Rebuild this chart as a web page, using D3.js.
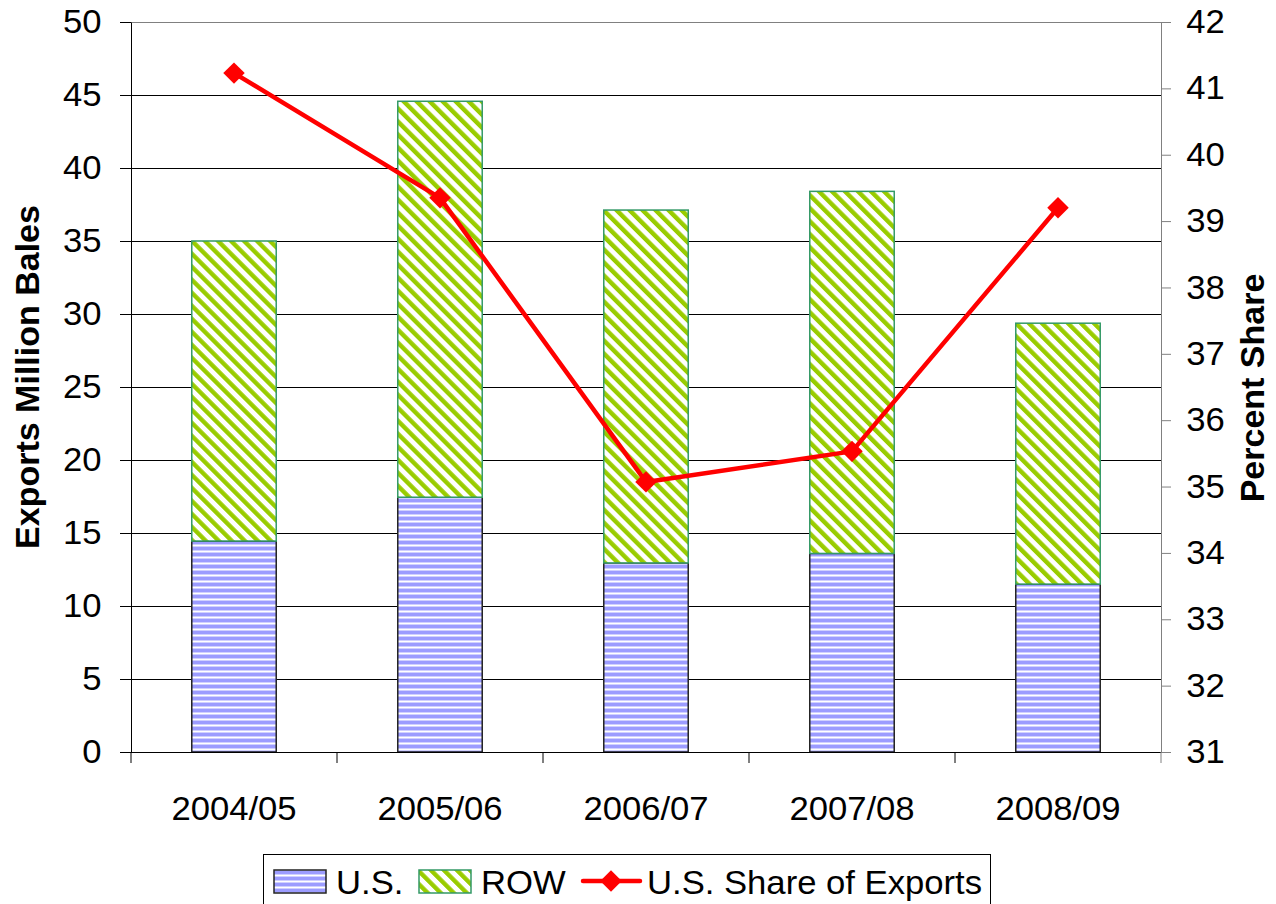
<!DOCTYPE html>
<html>
<head>
<meta charset="utf-8">
<script src="https://cdn.jsdelivr.net/npm/d3@7"></script>
<style>
  body { margin: 0; background: #fff; }
  svg { display: block; font-family: "Liberation Sans", Arial, sans-serif; }
</style>
</head>
<body>
<svg id="chart" width="1276" height="904"></svg>
<script>
    "use strict";
    // data
    var categories = ["2004/05", "2005/06", "2006/07", "2007/08", "2008/09"];
    var usExports = [14.45, 17.45, 12.95, 13.6, 11.5];
    var rowExports = [20.55, 27.12, 24.17, 24.8, 17.87];
    var usShare = [41.23, 39.35, 35.07, 35.53, 39.2];
    var leftTicks = [0, 5, 10, 15, 20, 25, 30, 35, 40, 45, 50];
    var rightTicks = [31, 32, 33, 34, 35, 36, 37, 38, 39, 40, 41, 42];

    var svg = d3.select("#chart");
    var plotLeft = 131, plotRight = 1161, plotTop = 22, plotBottom = 752;
    var stretch = "scale(1.05,1)";

    var x = d3.scaleBand().domain(categories).range([plotLeft, plotRight]).padding(0);
    var y = d3.scaleLinear().domain([0, 50]).range([plotBottom, plotTop]);
    var yR = d3.scaleLinear().domain([31, 42]).range([plotBottom, plotTop]);
    var barW = x.bandwidth() * 0.41;

    // fill patterns
    var defs = svg.append("defs");
    var pUS = defs.append("pattern").attr("id", "pUS").attr("patternUnits", "userSpaceOnUse")
        .attr("width", 8).attr("height", 6);
    pUS.append("rect").attr("width", 8).attr("height", 6).attr("fill", "#fff");
    pUS.append("rect").attr("y", 0).attr("width", 8).attr("height", 1).attr("fill", "#d0d0ff");
    pUS.append("rect").attr("y", 1).attr("width", 8).attr("height", 3).attr("fill", "#9c9cff");
    pUS.append("rect").attr("y", 4).attr("width", 8).attr("height", 1).attr("fill", "#d0d0ff");

    var pROW = defs.append("pattern").attr("id", "pROW").attr("patternUnits", "userSpaceOnUse")
        .attr("width", 9.2).attr("height", 9.2).attr("patternTransform", "rotate(-45)");
    pROW.append("rect").attr("width", 9.2).attr("height", 9.2).attr("fill", "#fff");
    pROW.append("rect").attr("x", 0).attr("width", 4.4).attr("height", 9.2).attr("fill", "#99cc00");

    // gridlines
    svg.append("g").selectAll("line").data(leftTicks.filter(function (d) { return d > 0; }))
        .join("line")
        .attr("x1", plotLeft).attr("x2", plotRight)
        .attr("y1", function (d) { return Math.round(y(d)) + 0.5; })
        .attr("y2", function (d) { return Math.round(y(d)) + 0.5; })
        .attr("stroke", function (d) { return d === 50 ? "#808080" : "#000"; })
        .attr("stroke-width", 1);

    // bars
    var bars = svg.append("g");
    categories.forEach(function (c, i) {
        var cx = x(c) + x.bandwidth() / 2;
        bars.append("rect")
            .attr("x", cx - barW / 2).attr("width", barW)
            .attr("y", y(usExports[i])).attr("height", y(0) - y(usExports[i]))
            .attr("fill", "url(#pUS)").attr("stroke", "#222").attr("stroke-width", 1.5);
        bars.append("rect")
            .attr("x", cx - barW / 2).attr("width", barW)
            .attr("y", y(usExports[i] + rowExports[i])).attr("height", y(usExports[i]) - y(usExports[i] + rowExports[i]))
            .attr("fill", "url(#pROW)").attr("stroke", "#339966").attr("stroke-width", 1.5);
    });

    // left axis
    var gL = svg.append("g").attr("transform", "translate(" + plotLeft + ",0)")
        .call(d3.axisLeft(y).tickValues(leftTicks).tickSize(11).tickPadding(17).tickSizeOuter(0));
    gL.select(".domain").attr("stroke", "#000");
    gL.selectAll("text").attr("font-size", 33).attr("fill", "#000").attr("font-family", "Liberation Sans, Arial").attr("transform", stretch);

    // right axis
    var gR = svg.append("g").attr("transform", "translate(" + plotRight + ",0)")
        .call(d3.axisRight(yR).tickValues(rightTicks).tickSize(10).tickPadding(14).tickSizeOuter(0));
    gR.select(".domain").attr("stroke", "#808080");
    gR.selectAll(".tick line").attr("stroke", "#808080");
    gR.selectAll("text").attr("font-size", 33).attr("fill", "#000").attr("font-family", "Liberation Sans, Arial").attr("transform", stretch);

    // bottom axis: baseline, boundary ticks, labels
    var gB = svg.append("g");
    gB.append("line").attr("x1", plotLeft - 11).attr("x2", plotRight).attr("y1", plotBottom + 0.5).attr("y2", plotBottom + 0.5).attr("stroke", "#000");
    gB.selectAll("line.b").data(categories.concat(["end"])).join("line").attr("class", "b")
        .attr("x1", function (d, i) { return plotLeft + i * x.step(); })
        .attr("x2", function (d, i) { return plotLeft + i * x.step(); })
        .attr("y1", plotBottom).attr("y2", plotBottom + 11)
        .attr("stroke", function (d, i) { return i === categories.length ? "#808080" : "#000"; });
    gB.selectAll("text").data(categories).join("text")
        .attr("transform", function (d) { return "translate(" + (x(d) + x.bandwidth() / 2) + "," + 820 + ") " + stretch; })
        .attr("text-anchor", "middle").attr("font-size", 33).text(function (d) { return d; });

    // share line
    var line = d3.line()
        .x(function (d, i) { return x(categories[i]) + x.bandwidth() / 2; })
        .y(function (d) { return yR(d); });
    svg.append("path").datum(usShare).attr("d", line)
        .attr("fill", "none").attr("stroke", "#ff0000").attr("stroke-width", 4.5).attr("stroke-linejoin", "round");
    svg.append("g").selectAll("path").data(usShare).join("path")
        .attr("transform", function (d, i) {
            return "translate(" + (x(categories[i]) + x.bandwidth() / 2) + "," + yR(d) + ") rotate(45)";
        })
        .attr("d", d3.symbol().type(d3.symbolSquare).size(230))
        .attr("fill", "#ff0000");

    // axis titles
    svg.append("text").attr("transform", "translate(39,377) rotate(-90)")
        .attr("text-anchor", "middle").attr("font-size", 34).attr("font-weight", "bold").text("Exports Million Bales");
    svg.append("text").attr("transform", "translate(1264,388) rotate(-90)")
        .attr("text-anchor", "middle").attr("font-size", 34).attr("font-weight", "bold").text("Percent Share");

    // legend
    var lg = svg.append("g");
    lg.append("rect").attr("x", 263.5).attr("y", 854.5).attr("width", 727).attr("height", 60)
        .attr("fill", "#fff").attr("stroke", "#000");
    lg.append("rect").attr("x", 274).attr("y", 870).attr("width", 52).attr("height", 23)
        .attr("fill", "url(#pUS)").attr("stroke", "#222").attr("stroke-width", 1.5);
    lg.append("text").attr("transform", "translate(336,894) " + stretch).attr("font-size", 33).text("U.S.");
    lg.append("rect").attr("x", 419).attr("y", 870).attr("width", 52).attr("height", 23)
        .attr("fill", "url(#pROW)").attr("stroke", "#339966").attr("stroke-width", 1.5);
    lg.append("text").attr("transform", "translate(481,894) " + stretch).attr("font-size", 33).text("ROW");
    lg.append("line").attr("x1", 583).attr("x2", 640).attr("y1", 881).attr("y2", 881)
        .attr("stroke", "#ff0000").attr("stroke-width", 4.5).attr("stroke-linecap", "round");
    lg.append("path").attr("transform", "translate(611,881) rotate(45)")
        .attr("d", d3.symbol().type(d3.symbolSquare).size(230)).attr("fill", "#ff0000");
    lg.append("text").attr("transform", "translate(647,894) " + stretch).attr("font-size", 33).text("U.S. Share of Exports");
</script>
</body>
</html>
